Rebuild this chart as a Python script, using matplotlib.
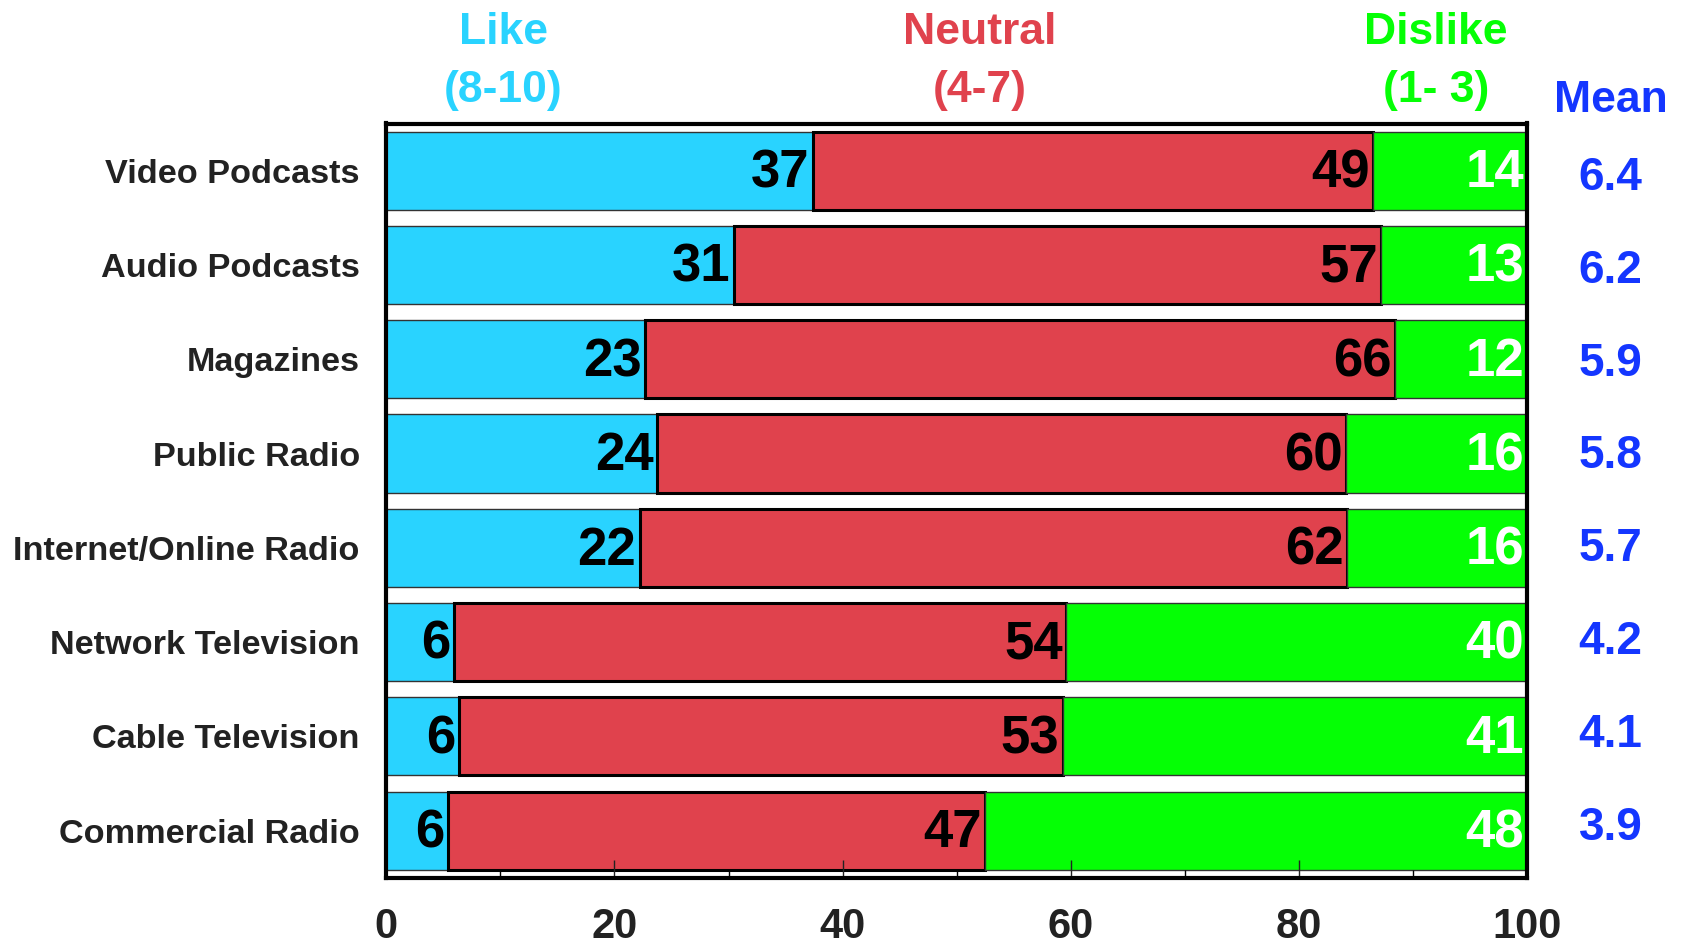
import numpy as np
import matplotlib
matplotlib.use("Agg")
import matplotlib.pyplot as plt
from matplotlib.ticker import MultipleLocator

plt.rcParams['font.family'] = ['Liberation Sans', 'DejaVu Sans']

media = ["Video Podcasts", "Audio Podcasts", "Magazines", "Public Radio",
         "Internet/Online Radio", "Network Television", "Cable Television",
         "Commercial Radio"]
# segment widths as drawn (unrounded), labels as printed
like = [37.4, 30.5, 22.7, 23.7, 22.2, 5.9, 6.4, 5.4]
neutral = [49.1, 56.7, 65.7, 60.4, 62.0, 53.7, 52.9, 47.1]
dislike = [13.5, 12.8, 11.6, 15.9, 15.8, 40.4, 40.7, 47.5]
like_lbl = [37, 31, 23, 24, 22, 6, 6, 6]
neutral_lbl = [49, 57, 66, 60, 62, 54, 53, 47]
dislike_lbl = [14, 13, 12, 16, 16, 40, 41, 48]
means = ["6.4", "6.2", "5.9", "5.8", "5.7", "4.2", "4.1", "3.9"]

c_like = "#29D3FF"
c_neu = "#E0424D"
c_dis = "#05FF05"
c_mean = "#1436FF"

fig = plt.figure(figsize=(16.83, 9.5), dpi=100)
ax = fig.add_axes([0.2295, 0.076, 0.678, 0.794])

y = np.arange(len(media))
like = np.array(like)
neutral = np.array(neutral)
dislike = np.array(dislike)
h = 0.83

ax.barh(y, like, height=h, color=c_like, edgecolor="#333333", linewidth=1)
ax.barh(y, neutral, left=like, height=h, color=c_neu, edgecolor="black", linewidth=2.2)
ax.barh(y, dislike, left=like + neutral, height=h, color=c_dis, edgecolor="#333333", linewidth=1)

for i in range(len(media)):
    ax.text(like[i] - 0.3, y[i] + 0.03, str(like_lbl[i]), ha="right", va="center",
            fontsize=38, fontweight="bold", color="black")
    ax.text(like[i] + neutral[i] - 0.3, y[i] + 0.03, str(neutral_lbl[i]), ha="right",
            va="center", fontsize=38, fontweight="bold", color="black")
    ax.text(like[i] + neutral[i] + dislike[i] - 0.3, y[i] + 0.03, str(dislike_lbl[i]),
            ha="right", va="center", fontsize=38, fontweight="bold", color="white")
    ax.text(107.3, 0.075 + y[i] * 0.9854, means[i], ha="center", va="center", fontsize=33,
            fontweight="bold", color=c_mean, clip_on=False)

ax.set_xlim(0, 100)
ax.set_ylim(7.5, -0.5)
ax.set_yticks(y)
ax.set_yticklabels(media, fontsize=24.7, fontweight="bold", color="#222222")
ax.tick_params(axis="y", length=0, pad=19)
ax.xaxis.set_major_locator(MultipleLocator(20))
ax.xaxis.set_minor_locator(MultipleLocator(10))
ax.tick_params(axis="x", which="major", direction="in", length=13, width=1, pad=21,
               labelsize=30, colors="#222222")
ax.tick_params(axis="x", which="minor", direction="in", length=6, width=1)
for lab in ax.get_xticklabels():
    lab.set_fontweight("bold")
for s in ax.spines.values():
    s.set_linewidth(3)
    s.set_color("black")

tr = ax.get_xaxis_transform()
ax.text(10.25, 1.121, "Like", transform=tr, ha="center", va="center",
        fontsize=32, fontweight="bold", color=c_like)
ax.text(10.25, 1.044, "(8-10)", transform=tr, ha="center", va="center",
        fontsize=32, fontweight="bold", color=c_like)
ax.text(52, 1.121, "Neutral", transform=tr, ha="center", va="center",
        fontsize=32, fontweight="bold", color=c_neu)
ax.text(52, 1.044, "(4-7)", transform=tr, ha="center", va="center",
        fontsize=32, fontweight="bold", color=c_neu)
ax.text(92, 1.121, "Dislike", transform=tr, ha="center", va="center",
        fontsize=32, fontweight="bold", color=c_dis)
ax.text(92, 1.044, "(1- 3)", transform=tr, ha="center", va="center",
        fontsize=32, fontweight="bold", color=c_dis)
ax.text(107.3, 1.031, "Mean", transform=tr, ha="center", va="center",
        fontsize=32, fontweight="bold", color=c_mean)

fig.savefig("out.png", dpi=100)
